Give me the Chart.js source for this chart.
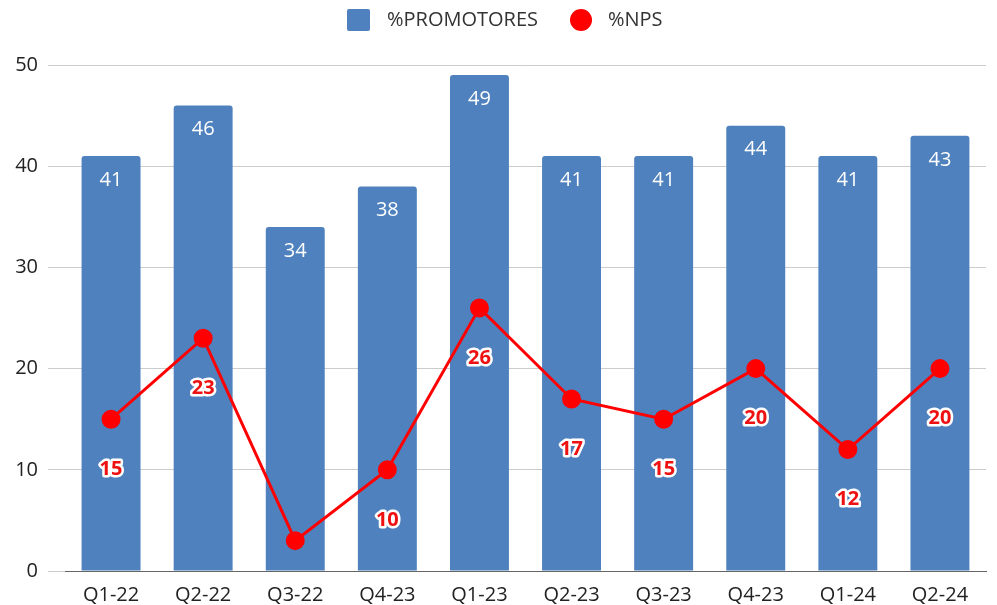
<!DOCTYPE html>
<html>
<head>
<meta charset="utf-8">
<script src="https://cdn.jsdelivr.net/npm/chart.js@4"></script>
<style>
  html, body { margin: 0; padding: 0; background: #fff; }
  #wrap { width: 997px; height: 605px; }
</style>
</head>
<body>
<div id="wrap"><canvas id="c" width="997" height="605"></canvas></div>
<script>
// valores
const trimestres = ['Q1-22', 'Q2-22', 'Q3-22', 'Q4-23', 'Q1-23', 'Q2-23', 'Q3-23', 'Q4-23', 'Q1-24', 'Q2-24'];
const promotores = [41, 46, 34, 38, 49, 41, 41, 44, 41, 43];
const nps = [15, 23, 3, 10, 26, 17, 15, 20, 12, 20];
const yTicks = [0, 10, 20, 30, 40, 50];

const FONT = '"Open Sans", "Noto Sans", sans-serif';
const AZUL = '#4e81bd';
const ROJO = '#ff0000';

// etiquetas de valores y leyenda
const etiquetas = {
  id: 'etiquetas',
  afterDatasetsDraw(chart) {
    const ctx = chart.ctx;
    const area = chart.chartArea;
    ctx.save();
    ctx.textAlign = 'center';
    ctx.textBaseline = 'middle';

    chart.getDatasetMeta(1).data.forEach((bar, i) => {
      ctx.font = '20px ' + FONT;
      ctx.fillStyle = '#ffffff';
      ctx.fillText(promotores[i], bar.x, bar.y + 24);
    });

    chart.getDatasetMeta(0).data.forEach((pt, i) => {
      const y = pt.y + 50;
      if (y > area.bottom - 8) return;
      ctx.font = 'bold 20px ' + FONT;
      ctx.lineJoin = 'round';
      ctx.lineWidth = 5;
      ctx.strokeStyle = '#ffffff';
      ctx.strokeText(nps[i], pt.x, y);
      ctx.fillStyle = '#ee1111';
      ctx.fillText(nps[i], pt.x, y);
    });
    ctx.restore();
  },
  afterDraw(chart) {
    const ctx = chart.ctx;
    ctx.save();
    ctx.font = '20px ' + FONT;
    ctx.textBaseline = 'middle';
    ctx.textAlign = 'left';
    ctx.fillStyle = '#333333';
    const cy = 20;
    // %PROMOTORES
    ctx.fillStyle = AZUL;
    ctx.beginPath();
    ctx.roundRect(347, cy - 11, 23, 22, 2);
    ctx.fill();
    ctx.fillStyle = '#333333';
    ctx.fillText(chart.data.datasets[1].label, 387, cy);
    // %NPS
    ctx.fillStyle = ROJO;
    ctx.beginPath();
    ctx.arc(581, cy, 11, 0, Math.PI * 2);
    ctx.fill();
    ctx.fillStyle = '#333333';
    ctx.fillText(chart.data.datasets[0].label, 608, cy);
    ctx.restore();
  }
};

new Chart(document.getElementById('c'), {
  data: {
    labels: trimestres,
    datasets: [
      {
        type: 'line',
        label: '%NPS',
        data: nps,
        borderColor: ROJO,
        backgroundColor: ROJO,
        borderWidth: 3,
        pointRadius: 8,
        pointHoverRadius: 8,
        tension: 0,
        order: 0
      },
      {
        type: 'bar',
        label: '%PROMOTORES',
        data: promotores,
        backgroundColor: AZUL,
        borderRadius: 3,
        barPercentage: 0.64,
        categoryPercentage: 1,
        order: 1
      }
    ]
  },
  options: {
    responsive: false,
    animation: false,
    layout: { padding: { top: 65, right: 8, left: 0, bottom: 0 } },
    plugins: {
      legend: { display: false },
      tooltip: { enabled: false }
    },
    scales: {
      x: {
        grid: { display: false, drawTicks: false },
        border: { display: true, color: '#666666', width: 1 },
        afterFit: scale => { scale.height = 34; },
        ticks: { color: '#222222', padding: 12, font: { family: FONT, size: 20 } }
      },
      y: {
        min: 0,
        max: 50,
        afterBuildTicks: scale => { scale.ticks = yTicks.map(v => ({ value: v })); },
        afterFit: scale => { scale.width = 65; },
        grid: { color: '#cccccc', tickLength: 17 },
        border: { display: false },
        ticks: { color: '#222222', padding: 10, font: { family: FONT, size: 20 } }
      }
    }
  },
  plugins: [etiquetas]
});
</script>
</body>
</html>
